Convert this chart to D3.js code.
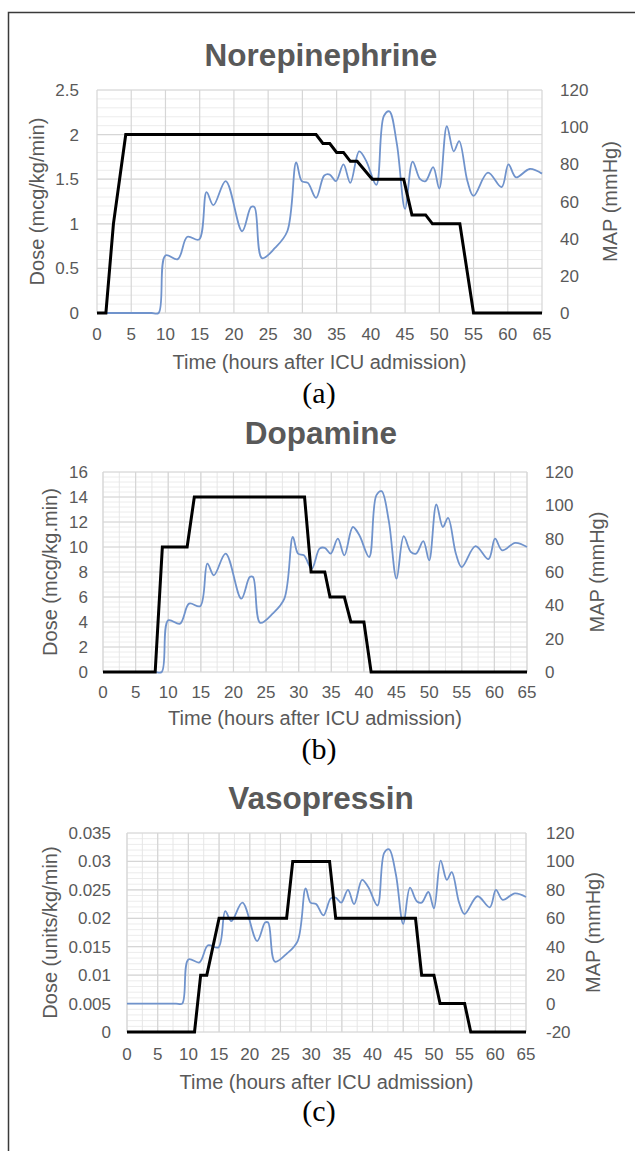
<!DOCTYPE html>
<html>
<head>
<meta charset="utf-8">
<script src="https://cdn.jsdelivr.net/npm/d3@7"></script>
<style>
  body { margin: 0; background: #fff; }
  svg { display: block; }
  text { font-family: "Liberation Sans", Arial, sans-serif; fill: #595959; }
</style>
</head>
<body>
<svg id="fig" width="635" height="1151"></svg>
<script>
// time axis ticks (hours after ICU admission)
var hourTicks = [0, 5, 10, 15, 20, 25, 30, 35, 40, 45, 50, 55, 60, 65];

// MAP (mmHg), same patient in all three panels
var mapHours = [0, 1, 2, 3, 4, 5, 6, 7, 8, 9, 10, 11.8, 13.2, 14.9, 16, 17, 18.8, 21.2, 22.5, 23, 24.1,
  26, 27.8, 29.1, 29.9, 30.8, 32, 33.2, 34, 34.9, 36, 37, 38.3, 39.3, 40.8, 41.9, 42.7, 43.8, 45,
  46.1, 47.2, 48, 49.1, 50, 51.1, 52.1, 52.9, 54.1, 55, 57.1, 59.1, 60.1, 61.2, 63.2, 65];
var mapValues = [0, 0, 0, 0, 0, 0, 0, 0, 0, 0, 31, 29, 41, 39.5, 65, 58, 71, 44, 57, 57, 29.5,
  35, 44, 81, 71, 70, 62, 74, 74.5, 71, 80, 70, 87, 82, 69, 106, 108.5, 91, 56,
  81.5, 72, 71, 78.5, 67, 100.5, 87, 92.5, 71, 63, 75.5, 67.7, 80, 73, 77.5, 75];

// norepinephrine dose (mcg/kg/min)
var norepiHours = [0, 1.3, 2.4, 3.3, 4.2, 32, 33, 34, 35, 36, 37, 38, 40.2, 44.8, 46, 48, 49, 53, 55, 65];
var norepiDose = [0, 0, 1.0, 1.5, 2.0, 2.0, 1.9, 1.9, 1.8, 1.8, 1.7, 1.7, 1.5, 1.5, 1.1, 1.1, 1.0, 1.0, 0, 0];

// dopamine dose (mcg/kg.min)
var dopaHours = [0, 8, 9.1, 12.9, 14, 30.9, 31.9, 34, 34.8, 37, 38, 40, 41.1, 65];
var dopaDose = [0, 0, 10, 10, 14, 14, 8, 8, 6, 6, 4, 4, 0, 0];

// vasopressin dose (units/kg/min)
var vasoHours = [0, 11, 12, 13, 15, 26, 27, 33, 34, 47, 48, 50, 51, 55, 56, 65];
var vasoDose = [0, 0, 0.01, 0.01, 0.02, 0.02, 0.03, 0.03, 0.02, 0.02, 0.01, 0.01, 0.005, 0.005, 0, 0];

// axis tick labels
var norepiTicks = [0, 0.5, 1, 1.5, 2, 2.5];
var dopaTicks = [0, 2, 4, 6, 8, 10, 12, 14, 16];
var vasoTicks = [0, 0.005, 0.01, 0.015, 0.02, 0.025, 0.03, 0.035];
var mapTicks = [0, 20, 40, 60, 80, 100, 120];
var mapTicksC = [-20, 0, 20, 40, 60, 80, 100, 120];

var svg = d3.select("#fig");

// frame round the figure
svg.append("rect")
  .attr("x", 8.5).attr("y", 12.5)
  .attr("width", 700).attr("height", 1200)
  .attr("fill", "none").attr("stroke", "#3a3a3a").attr("stroke-width", 1.5);

var panels = [
  { title: "Norepinephrine", label: "(a)", leftTitle: "Dose (mcg/kg/min)",
    hours: norepiHours, dose: norepiDose, leftTicks: norepiTicks, rightTicks: mapTicks,
    minorY: 0.1, minorX: null,
    x0: 97, x1: 542, y0: 90, y1: 313,
    titleY: 66, tickY: 340, axisTitleY: 369, labelY: 403,
    leftTickX: 79, leftTitleX: 37, rightTickX: 560, rightTitleX: 610 },
  { title: "Dopamine", label: "(b)", leftTitle: "Dose (mcg/kg.min)",
    hours: dopaHours, dose: dopaDose, leftTicks: dopaTicks, rightTicks: mapTicks,
    minorY: 0.4, minorX: 2.5,
    x0: 103, x1: 527, y0: 472, y1: 672,
    titleY: 444, tickY: 698, axisTitleY: 725, labelY: 759,
    leftTickX: 88, leftTitleX: 50, rightTickX: 545, rightTitleX: 597 },
  { title: "Vasopressin", label: "(c)", leftTitle: "Dose (units/kg/min)",
    hours: vasoHours, dose: vasoDose, leftTicks: vasoTicks, rightTicks: mapTicksC,
    minorY: 0.001, minorX: 2.5,
    x0: 127, x1: 526, y0: 833, y1: 1032,
    titleY: 809, tickY: 1060, axisTitleY: 1089, labelY: 1121,
    leftTickX: 111, leftTitleX: 50, rightTickX: 546, rightTitleX: 593 }
];

panels.forEach(drawPanel);

function drawPanel(p) {
  var g = svg.append("g");
  var lt = p.leftTicks, rt = p.rightTicks;

  var x = d3.scaleLinear().domain([0, 65]).range([p.x0, p.x1]);
  var yL = d3.scaleLinear().domain([lt[0], lt[lt.length - 1]]).range([p.y1, p.y0]);
  var yR = d3.scaleLinear().domain([rt[0], rt[rt.length - 1]]).range([p.y1, p.y0]);

  // minor grid
  var minorYs = d3.range(lt[0], lt[lt.length - 1] + p.minorY / 2, p.minorY);
  g.append("g").selectAll("line").data(minorYs).enter().append("line")
    .attr("x1", p.x0).attr("x2", p.x1)
    .attr("y1", function (d) { return yL(d); }).attr("y2", function (d) { return yL(d); })
    .style("stroke", "#ececec").style("stroke-width", 1);
  if (p.minorX) {
    g.append("g").selectAll("line").data(d3.range(0, 65.1, p.minorX)).enter().append("line")
      .attr("x1", function (d) { return x(d); }).attr("x2", function (d) { return x(d); })
      .attr("y1", p.y0).attr("y2", p.y1)
      .style("stroke", "#e6e6e6").style("stroke-width", 1);
  }
  // major grid
  g.append("g").selectAll("line").data(lt).enter().append("line")
    .attr("x1", p.x0).attr("x2", p.x1)
    .attr("y1", function (d) { return yL(d); }).attr("y2", function (d) { return yL(d); })
    .style("stroke", "#d6d6d6").style("stroke-width", 1.2);
  g.append("g").selectAll("line").data(hourTicks).enter().append("line")
    .attr("x1", function (d) { return x(d); }).attr("x2", function (d) { return x(d); })
    .attr("y1", p.y0).attr("y2", p.y1)
    .style("stroke", "#d6d6d6").style("stroke-width", 1.2);

  // MAP, smoothed like the spreadsheet line
  var mapLine = d3.line()
    .x(function (d, i) { return x(mapHours[i]); })
    .y(function (d) { return yR(d); })
    .curve(d3.curveCatmullRom.alpha(0.5));
  g.append("path").datum(mapValues)
    .attr("d", mapLine)
    .attr("fill", "none").style("stroke", "#7093cc").style("stroke-width", 1.8);

  // dose
  var doseLine = d3.line()
    .x(function (d, i) { return x(p.hours[i]); })
    .y(function (d) { return yL(d); });
  g.append("path").datum(p.dose)
    .attr("d", doseLine)
    .attr("fill", "none").style("stroke", "#000").style("stroke-width", 3)
    .style("stroke-linejoin", "miter");

  // tick labels
  g.append("g").selectAll("text").data(lt).enter().append("text")
    .attr("x", p.leftTickX).attr("y", function (d) { return yL(d) + 6; })
    .attr("text-anchor", "end").attr("font-size", "17px")
    .text(function (d) { return d; });
  g.append("g").selectAll("text").data(rt).enter().append("text")
    .attr("x", p.rightTickX).attr("y", function (d) { return yR(d) + 6; })
    .attr("text-anchor", "start").attr("font-size", "17px")
    .text(function (d) { return d; });
  g.append("g").selectAll("text").data(hourTicks).enter().append("text")
    .attr("x", function (d) { return x(d); }).attr("y", p.tickY)
    .attr("text-anchor", "middle").attr("font-size", "17px")
    .text(function (d) { return d; });

  // titles
  g.append("text")
    .attr("x", 321).attr("y", p.titleY)
    .attr("text-anchor", "middle").attr("font-size", "31.5px").attr("font-weight", "bold")
    .text(p.title);
  g.append("text")
    .attr("x", (p.x0 + p.x1) / 2).attr("y", p.axisTitleY)
    .attr("text-anchor", "middle").attr("font-size", "20px")
    .text("Time (hours after ICU admission)");
  var cy = (p.y0 + p.y1) / 2;
  g.append("text")
    .attr("transform", "translate(" + (p.leftTitleX + 7) + "," + cy + ") rotate(-90)")
    .attr("text-anchor", "middle").attr("font-size", "20px")
    .text(p.leftTitle);
  g.append("text")
    .attr("transform", "translate(" + (p.rightTitleX + 7) + "," + cy + ") rotate(-90)")
    .attr("text-anchor", "middle").attr("font-size", "20px")
    .text("MAP (mmHg)");
  g.append("text")
    .attr("x", 319).attr("y", p.labelY)
    .attr("text-anchor", "middle").attr("font-size", "30px")
    .style("font-family", "'Liberation Serif', 'Times New Roman', serif").style("fill", "#000")
    .text(p.label);
}
</script>
</body>
</html>
